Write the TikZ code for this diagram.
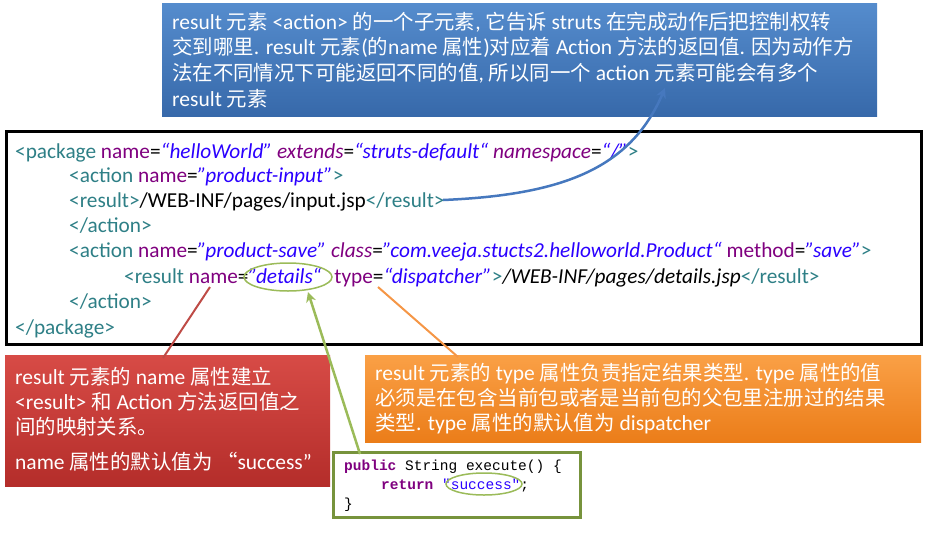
\documentclass[tikz,border=0pt]{standalone}
\usepackage{fontspec}
\setmainfont{Carlito}
\newfontfamily\cjk[Scale=0.95]{Noto Sans CJK SC}
\newfontfamily\cour{Liberation Mono}
\usetikzlibrary{arrows.meta}
\definecolor{tagc}{HTML}{2E7F86}
\definecolor{attc}{HTML}{7F007F}
\definecolor{valc}{HTML}{2A00FF}
\definecolor{grn}{HTML}{77933C}
\definecolor{grnl}{HTML}{9BBB59}
\newcommand{\tg}[1]{\textcolor{tagc}{#1}}
\newcommand{\ab}[1]{\textcolor{attc}{#1}}
\newcommand{\vl}[1]{\textcolor{valc}{\itshape #1}}
\newcommand{\zh}[1]{{\cjk #1}}
\tikzset{
 code/.style={anchor=base west,inner sep=0pt,font=\fontsize{21.3}{24}\selectfont},
 btxt/.style={anchor=base west,inner sep=0pt,font=\fontsize{21.5}{24}\selectfont},
 mono/.style={anchor=base west,inner sep=0pt,font=\cour\fontsize{14.5}{17}\selectfont},
}
\begin{document}
\begin{tikzpicture}[x=1pt,y=-1pt]
\useasboundingbox (0,0) rectangle (925,533);
% blue box
\shade[top color={rgb,255:red,85;green,140;blue,205},bottom color={rgb,255:red,55;green,105;blue,170}] (162,3) rectangle (877,116);
\node[btxt,text=white] (b1) at (172,29) {result \zh{元素} <action> \zh{的一个子元素}, \zh{它告诉} struts \zh{在完成动作后把控制权转}};
\node[btxt,text=white] (b2) at (172,54) {\zh{交到哪里}. result \zh{元素}(\zh{的}name \zh{属性})\zh{对应着} Action \zh{方法的返回值}. \zh{因为动作方}};
\node[btxt,text=white] (b3) at (172,80) {\zh{法在不同情况下可能返回不同的值}, \zh{所以同一个} action \zh{元素可能会有多个}};
\node[btxt,text=white] (b4) at (172,106) {result \zh{元素}};
\coordinate (bt) at (665,88);
% code box
\draw[line width=3pt] (6,131) rectangle (921,344);
\node[code] (c1) at (15,158) {\tg{<package} \ab{name}=\vl{“helloWorld”} \ab{\itshape extends}=\vl{“struts-default“} \ab{\itshape namespace}=\vl{“/”}\tg{>}};
\node[code] (c2) at (69,182) {\tg{<action} \ab{name}=\vl{"product-input"}\tg{>}};
\node[code] (c3) at (69,207) {\tg{<result>}/WEB-INF/pages/input.jsp\tg{</result>}};
\node[code] (c4) at (69,232) {\tg{</action>}};
\node[code] (c5) at (69,257) {\tg{<action} \ab{name}=\vl{"product-save"} \ab{\itshape class}=\vl{"com.veeja.stucts2.helloworld.Product“} \ab{method}=\vl{"save"}\tg{>}};
\node[code] (c6) at (124,283) {\tg{<result} \ab{name}=\vl{"details“}\hspace{13pt}\ab{type}=\vl{“dispatcher”}\tg{>}\textit{/WEB-INF/pages/details.jsp}\tg{</result>}};
\node[code] (c7) at (69,308) {\tg{</action>}};
\node[code] (c8) at (15,334) {\tg{</package>}};
\draw[grnl,line width=1.5pt] (288,277) ellipse [x radius=44, y radius=14];
\coordinate (det) at (308,292);
\coordinate (nm) at (210,287);
\coordinate (tp) at (378,287);
\coordinate (rs) at (443,200);
% red box
\shade[top color={rgb,255:red,215;green,75;blue,70},bottom color={rgb,255:red,180;green,45;blue,42}] (5,355) rectangle (330,486);
\node[btxt,text=white] (r1) at (15,384) {result \zh{元素的} name \zh{属性建立}};
\node[btxt,text=white] (r2) at (15,409) {<result> \zh{和} Action \zh{方法返回值之}};
\node[btxt,text=white] (r3) at (15,434) {\zh{间的映射关系。}};
\node[btxt,text=white] (r4) at (15,469) {name \zh{属性的默认值为 “}success”};
\coordinate (rt) at (163,358);
% orange box
\shade[top color={rgb,255:red,250;green,160;blue,70},bottom color={rgb,255:red,235;green,125;blue,25}] (365,355) rectangle (921,442);
\node[btxt,text=white] (o1) at (375,380) {result \zh{元素的} type \zh{属性负责指定结果类型}. type \zh{属性的值}};
\node[btxt,text=white] (o2) at (375,405) {\zh{必须是在包含当前包或者是当前包的父包里注册过的结果}};
\node[btxt,text=white] (o3) at (375,430) {\zh{类型}. type \zh{属性的默认值为} dispatcher};
\coordinate (ot) at (458,357);
% green code box
\fill[white] (333,452) rectangle (580,517);
\draw[grn,line width=3pt] (333,452) rectangle (580,517);
\node[mono] (g1) at (344,470) {\textcolor{attc}{\bfseries public} String execute() \{};
\node[mono] (g2) at (381,489) {\textcolor{attc}{\bfseries return} \textcolor{valc}{"success"};};
\node[mono] (g3) at (344,508) {\}};
\draw[grnl,line width=1.5pt] (484,484) ellipse [x radius=38, y radius=11];
\coordinate (gt) at (360,454);
% connectors
\draw[color={rgb,255:red,70;green,120;blue,190},line width=2.5pt,-{Stealth[length=10pt,width=10pt]}] (rs) .. controls (560,195) and (630,170) .. (bt);
\draw[color={rgb,255:red,190;green,75;blue,70},line width=2pt] (nm) -- (rt);
\draw[grnl,line width=2.5pt,-{Stealth[length=10pt,width=10pt]}] (gt) -- (det);
\draw[color={rgb,255:red,245;green,150;blue,70},line width=2pt] (tp) -- (ot);
\end{tikzpicture}
\end{document}
